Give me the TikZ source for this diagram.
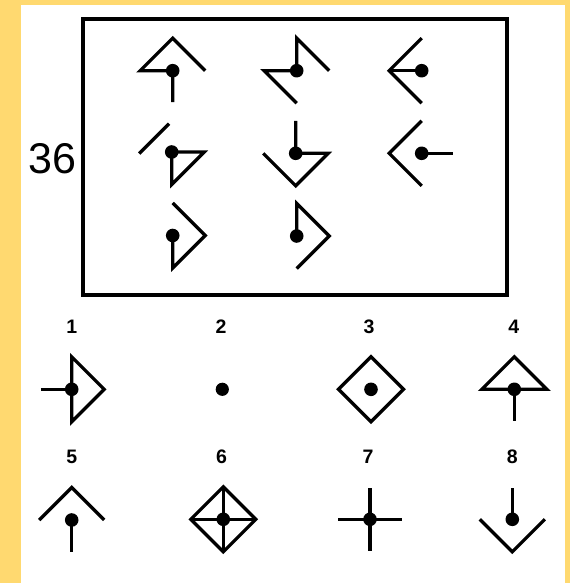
\documentclass[tikz,border=0pt]{standalone}
\usepackage{fontspec}
\setmainfont{Liberation Sans}
\definecolor{frameyellow}{RGB}{255,217,112}
\begin{document}
\begin{tikzpicture}[x=1pt,y=-1pt,
  fig/.style={line width=3.3pt,line join=miter,line cap=butt},
  lab/.style={inner sep=0pt,anchor=base,font=\fontsize{19.5}{19.5}\selectfont\bfseries},
  unit/.style={x=32.5pt,y=32.5pt}]
\useasboundingbox (0,0) rectangle (570,583);
\fill[frameyellow] (0,0) rectangle (570,583);
\fill[white] (21,5.5) rectangle (564.5,583);
% question box
\draw[line width=3.6pt] (82.8,19.2) rectangle (506.7,294.7);
\node[inner sep=0pt,anchor=base,font=\fontsize{43}{43}\selectfont] (num) at (52.5,173) {36};
% row 1
\begin{scope}[shift={(172.7,70.7)},unit]
  \draw[fig] (1,0)--(0,1)--(-1,0)--(0,0)--(0,-0.97);
  \fill (0,0) circle[radius=6.8pt];
\end{scope}
\begin{scope}[shift={(296.7,70.7)},unit]
  \draw[fig] (1,0)--(0,1)--(0,0)--(-1,0)--(0,-1);
  \fill (0,0) circle[radius=6.8pt];
\end{scope}
\begin{scope}[shift={(421.7,70.7)},unit]
  \draw[fig] (0,1)--(-1,0)--(0,-1);
  \draw[fig] (-1,0)--(0,0);
  \fill (0,0) circle[radius=6.8pt];
\end{scope}
% row 2
\begin{scope}[shift={(171.7,152)},unit]
  \draw[fig] (-1,-0.05)--(-0.08,0.87);
  \draw[fig] (0,0)--(1,0)--(0,-1)--cycle;
  \fill (0,0) circle[radius=6.8pt];
\end{scope}
\begin{scope}[shift={(295.7,153.3)},unit]
  \draw[fig] (0,1)--(0,0)--(1,0)--(0,-1)--(-1,0);
  \fill (0,0) circle[radius=6.8pt];
\end{scope}
\begin{scope}[shift={(421.7,153.3)},unit]
  \draw[fig] (0,1)--(-1,0)--(0,-1);
  \draw[fig] (0,0)--(0.95,0);
  \fill (0,0) circle[radius=6.8pt];
\end{scope}
% row 3
\begin{scope}[shift={(172.7,235.5)},unit]
  \draw[fig] (0,1)--(1,0)--(0,-1)--(0,0);
  \fill (0,0) circle[radius=6.8pt];
\end{scope}
\begin{scope}[shift={(296.7,236)},unit]
  \draw[fig] (0,0)--(0,1)--(1,0)--(0,-1);
  \fill (0,0) circle[radius=6.8pt];
\end{scope}
% answer labels
\node[lab] (l1) at (71.7,333.3) {1};
\node[lab] (l2) at (221,333.3) {2};
\node[lab] (l3) at (369,333.3) {3};
\node[lab] (l4) at (513.8,333.3) {4};
\node[lab] (l5) at (71.7,463.3) {5};
\node[lab] (l6) at (221.5,463.3) {6};
\node[lab] (l7) at (368,463.3) {7};
\node[lab] (l8) at (512.3,463.3) {8};
% answers row 1
\begin{scope}[shift={(71.7,389.3)},unit]
  \draw[fig] (-0.95,0)--(0,0);
  \draw[fig] (0,1)--(1,0)--(0,-1)--cycle;
  \fill (0,0) circle[radius=6.8pt];
\end{scope}
\begin{scope}[shift={(222.3,389.3)},unit]
  \fill (0,0) circle[radius=6.6pt];
\end{scope}
\begin{scope}[shift={(371,389.3)},unit]
  \draw[fig] (0,1)--(1,0)--(0,-1)--(-1,0)--cycle;
  \fill (0,0) circle[radius=6.8pt];
\end{scope}
\begin{scope}[shift={(514.3,389.3)},unit]
  \draw[fig] (-1,0)--(0,1)--(1,0)--cycle;
  \draw[fig] (0,0)--(0,-0.97);
  \fill (0,0) circle[radius=6.8pt];
\end{scope}
% answers row 2
\begin{scope}[shift={(71.7,520)},unit]
  \draw[fig] (-1,0)--(0,1)--(1,0);
  \draw[fig] (0,0)--(0,-0.97);
  \fill (0,0) circle[radius=6.8pt];
\end{scope}
\begin{scope}[shift={(223.3,519.3)},unit]
  \draw[fig] (0,1)--(1,0)--(0,-1)--(-1,0)--cycle;
  \draw[fig] (-1,0)--(1,0);
  \draw[fig] (0,-1)--(0,1);
  \fill (0,0) circle[radius=6.8pt];
\end{scope}
\begin{scope}[shift={(370,519.3)},unit]
  \draw[fig] (-0.97,0)--(0.97,0);
  \draw[fig] (0,-0.97)--(0,0.97);
  \fill (0,0) circle[radius=6.8pt];
\end{scope}
\begin{scope}[shift={(512.3,519.3)},unit]
  \draw[fig] (0,0)--(0,0.97);
  \draw[fig] (-1,0)--(0,-1)--(1,0);
  \fill (0,0) circle[radius=6.8pt];
\end{scope}
\end{tikzpicture}
\end{document}
